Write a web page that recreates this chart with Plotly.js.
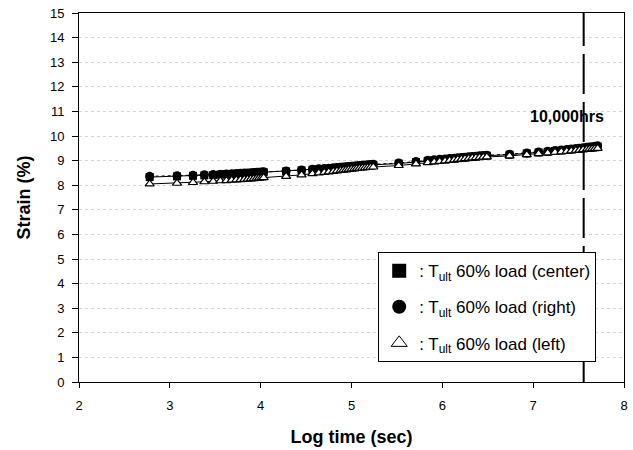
<!DOCTYPE html>
<html><head><meta charset="utf-8">
<script src="https://cdn.plot.ly/plotly-3.0.1.min.js"></script>
<style>html,body{margin:0;padding:0;background:#fff}#chart{width:633px;height:450px}</style>
</head><body><div id="chart"></div>
<script>
// Log time (sec)
const logTime = [
  2.778, 3.079, 3.255, 3.380, 3.477, 3.556, 3.623, 3.681, 3.732, 3.778, 3.820, 3.857, 3.892, 3.924, 3.954, 3.982, 4.009, 4.033,
  4.28, 4.45, 4.57, 4.64, 4.70, 4.75, 4.80, 4.84, 4.88, 4.91, 4.94, 4.97, 5.00, 5.03, 5.06, 5.09, 5.12, 5.15, 5.18, 5.21, 5.24,
  5.52, 5.71, 5.84, 5.91, 5.97, 6.03, 6.08, 6.13, 6.17, 6.21, 6.25, 6.29, 6.33, 6.37, 6.41, 6.45, 6.49,
  6.74, 6.93, 7.06, 7.16, 7.24, 7.31, 7.37, 7.42, 7.47, 7.51, 7.55, 7.59, 7.62, 7.65, 7.68, 7.71
];
const strainCenter = [
  8.33, 8.36, 8.38, 8.40, 8.41, 8.43, 8.44, 8.45, 8.46, 8.47, 8.48, 8.48, 8.49, 8.50, 8.51, 8.51, 8.52, 8.53,
  8.56, 8.60, 8.63, 8.65, 8.66, 8.67, 8.69, 8.70, 8.71, 8.72, 8.73, 8.74, 8.75, 8.76, 8.77, 8.78, 8.79, 8.80, 8.81, 8.82, 8.83,
  8.88, 8.94, 8.99, 9.01, 9.03, 9.05, 9.07, 9.08, 9.10, 9.11, 9.12, 9.14, 9.15, 9.16, 9.18, 9.19, 9.20,
  9.24, 9.29, 9.33, 9.36, 9.39, 9.41, 9.43, 9.45, 9.47, 9.48, 9.50, 9.52, 9.53, 9.54, 9.55, 9.57
];
const strainRight = [
  8.36, 8.38, 8.40, 8.42, 8.43, 8.45, 8.46, 8.47, 8.48, 8.49, 8.50, 8.50, 8.51, 8.52, 8.53, 8.53, 8.54, 8.55,
  8.58, 8.62, 8.65, 8.67, 8.68, 8.69, 8.71, 8.72, 8.73, 8.74, 8.75, 8.76, 8.77, 8.78, 8.79, 8.80, 8.81, 8.82, 8.83, 8.84, 8.85,
  8.90, 8.96, 9.01, 9.03, 9.05, 9.07, 9.09, 9.10, 9.12, 9.13, 9.14, 9.16, 9.17, 9.18, 9.20, 9.21, 9.22,
  9.26, 9.31, 9.35, 9.38, 9.41, 9.43, 9.45, 9.47, 9.49, 9.50, 9.52, 9.54, 9.55, 9.56, 9.58, 9.60
];
const strainLeft = [
  8.05, 8.08, 8.11, 8.14, 8.16, 8.18, 8.19, 8.21, 8.22, 8.23, 8.24, 8.25, 8.26, 8.27, 8.28, 8.29, 8.30, 8.31,
  8.36, 8.42, 8.47, 8.50, 8.52, 8.54, 8.56, 8.58, 8.60, 8.61, 8.62, 8.64, 8.65, 8.66, 8.68, 8.69, 8.70, 8.71, 8.72, 8.73, 8.74,
  8.80, 8.87, 8.92, 8.95, 8.97, 8.99, 9.01, 9.03, 9.05, 9.06, 9.08, 9.09, 9.11, 9.12, 9.13, 9.14, 9.15,
  9.19, 9.24, 9.28, 9.31, 9.34, 9.36, 9.38, 9.40, 9.42, 9.43, 9.45, 9.46, 9.47, 9.48, 9.49, 9.50
];
const seriesNames = [
  ': T<sub>ult</sub> 60% load (center)',
  ': T<sub>ult</sub> 60% load (right)',
  ': T<sub>ult</sub> 60% load (left)'
];
const markLogTime = 7.556; // 10,000 hrs
const markLabel = '<b>10,000hrs</b>';

const font = 'Arial, "Liberation Sans", sans-serif';
const traces = [
  {x: logTime, y: strainCenter, mode: 'lines+markers', showlegend: false,
   line: {color: '#000', width: 1},
   marker: {symbol: 'square', size: 8, color: '#000'}},
  {x: logTime, y: strainRight, mode: 'lines+markers', showlegend: false,
   line: {color: '#000', width: 1, dash: 'dot'},
   marker: {symbol: 'circle', size: 9, color: '#000'}},
  {x: logTime, y: strainLeft, mode: 'lines+markers', showlegend: false,
   line: {color: '#000', width: 1},
   marker: {symbol: 'triangle-up', size: 8, color: '#fff', line: {color: '#000', width: 1.2}}},
  // legend-only entries
  {x: [null], y: [null], mode: 'markers', name: seriesNames[0], legendgroup: 'a',
   marker: {symbol: 'square', size: 14, color: '#000'}},
  {x: [null], y: [null], mode: 'markers', name: seriesNames[1], legendgroup: 'b',
   marker: {symbol: 'circle', size: 14, color: '#000'}},
  {x: [null], y: [null], mode: 'markers', name: seriesNames[2], legendgroup: 'c',
   marker: {symbol: 'triangle-up', size: 14, color: '#fff', line: {color: '#000', width: 1}}}
];
const layout = {
  width: 633, height: 450,
  margin: {l: 79, r: 9, t: 13, b: 68},
  paper_bgcolor: '#fff', plot_bgcolor: '#fff',
  font: {family: font, color: '#000', size: 13},
  showlegend: true,
  legend: {x: 0.549, y: 0.352, xanchor: 'left', yanchor: 'top',
    bgcolor: '#fff', bordercolor: '#000', borderwidth: 1,
    font: {family: font, size: 17, color: '#000'},
    tracegroupgap: 11, itemsizing: 'trace'},
  xaxis: {range: [2, 8], dtick: 1, tick0: 2,
    showgrid: false, zeroline: false,
    showline: true, linecolor: '#000', linewidth: 1, mirror: true,
    ticks: 'outside', ticklen: 5, tickcolor: '#000', ticklabelstandoff: 6,
    tickfont: {family: font, size: 13},
    title: {text: '<b>Log time (sec)</b>', font: {family: font, size: 18}, standoff: 18}},
  yaxis: {range: [0, 15], dtick: 1, tick0: 0,
    showgrid: true, gridcolor: '#d6d6d6', griddash: 'dot', gridwidth: 1,
    zeroline: false,
    showline: true, linecolor: '#000', linewidth: 1, mirror: true,
    ticks: 'outside', ticklen: 6, tickcolor: '#000', ticklabelstandoff: 5,
    tickfont: {family: font, size: 13},
    title: {text: '<b>Strain (%)</b>', font: {family: font, size: 18}, standoff: 14}},
  shapes: [
    {type: 'line', xref: 'x', yref: 'paper', x0: markLogTime, x1: markLogTime, y0: 0, y1: 1,
     line: {color: '#000', width: 2, dash: '40px,8px'}}
  ],
  annotations: [
    {x: 7.37, y: 10.8, xref: 'x', yref: 'y', text: markLabel, showarrow: false,
     font: {family: font, size: 16, color: '#000'}}
  ]
};
Plotly.newPlot('chart', traces, layout, {displayModeBar: false, staticPlot: true});
</script></body></html>
